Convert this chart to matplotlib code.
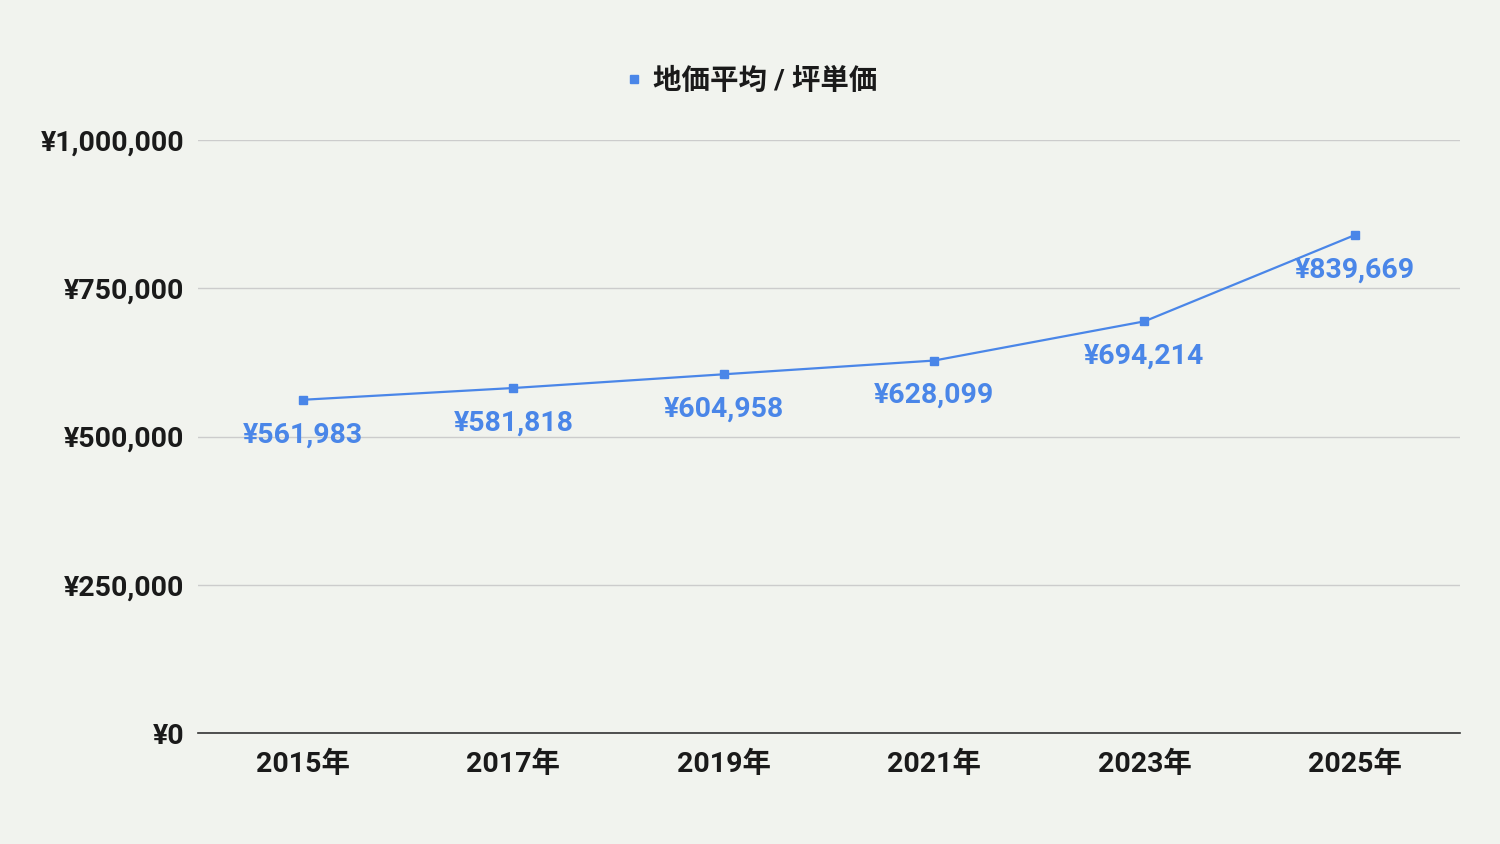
import matplotlib
matplotlib.use("Agg")
import matplotlib.pyplot as plt
from matplotlib.lines import Line2D
from matplotlib.ticker import FuncFormatter

years = ["2015年", "2017年", "2019年", "2021年", "2023年", "2025年"]
values = [561983, 581818, 604958, 628099, 694214, 839669]
series_name = "地価平均 / 坪単価"

plt.rcParams['font.family'] = ['Roboto', 'Noto Sans CJK JP', 'DejaVu Sans']

bg = "#f1f3ee"
blue = "#4a86e8"
fig = plt.figure(figsize=(15, 8.44), dpi=100, facecolor=bg)
ax = fig.add_axes([0.132, 0.1315, 0.8413, 0.7026], facecolor=bg)

x = list(range(len(years)))
ax.plot(x, values, color=blue, lw=1.6, marker="s", ms=6, zorder=3)
for xi, v in zip(x, values):
    ax.annotate(f"¥{v:,}", (xi, v), xytext=(0, -35), textcoords="offset pixels",
                ha="center", va="center", color=blue, fontsize=20.5, fontweight="bold", zorder=4)

ax.set_xlim(-0.5, len(years) - 0.5)
ax.set_ylim(0, 1000000)
ax.set_yticks([0, 250000, 500000, 750000, 1000000])
ax.yaxis.set_major_formatter(FuncFormatter(lambda v, p: f"¥{int(v):,}"))
ax.set_xticks(x)
ax.set_xticklabels(years)
ax.grid(axis="y", color="#cccccc", lw=1)
ax.set_axisbelow(True)
for s in ["top", "right", "left"]:
    ax.spines[s].set_visible(False)
ax.spines["bottom"].set_color("#333333")
ax.spines["bottom"].set_linewidth(1.2)
ax.tick_params(length=0, labelsize=20.5, colors="#1a1a1a")
ax.tick_params(axis="y", pad=10)
ax.tick_params(axis="x", pad=13)
for lab in ax.get_xticklabels() + ax.get_yticklabels():
    lab.set_fontweight("bold")

handle = Line2D([], [], color=blue, marker="s", ms=6, lw=0)
fig.legend([handle], [series_name], loc="center", bbox_to_anchor=(0.5, 1 - 81 / 844),
           frameon=False, prop={"size": 20.5, "weight": "bold"}, handletextpad=0.3,
           handlelength=0.8, labelcolor="#1a1a1a")

fig.savefig("out.png", dpi=100, facecolor=bg)
